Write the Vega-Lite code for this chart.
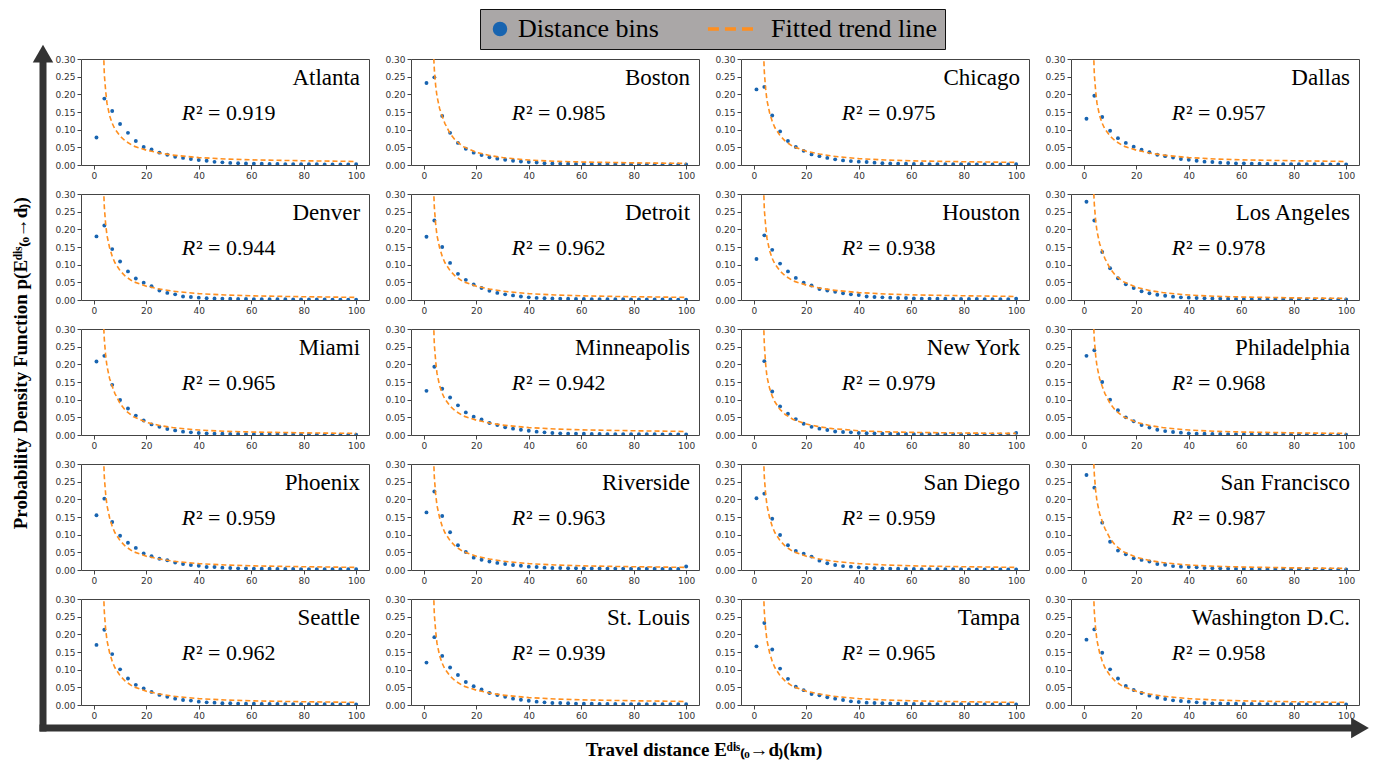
{
"$schema": "https://vega.github.io/schema/vega-lite/v6.json",
"padding": {"left": 12, "top": 8, "right": 0, "bottom": 0},
"config": {
  "view": {"stroke": null},
  "font": "Liberation Serif",
  "header": {"labels": false, "title": null},
  "headerFacet": {"labels": false, "title": null},
  "axis": {"labelFont": "DejaVu Sans", "labelFontSize": 9, "labelColor": "#333", "tickColor": "#444", "tickSize": 4, "domain": false, "grid": false, "labelPadding": 2}
},
"datasets": {"d": [
{"c":1,"t":"r","n":"Atlanta","r":"² = 0.919"},
{"c":2,"t":"r","n":"Boston","r":"² = 0.985"},
{"c":3,"t":"r","n":"Chicago","r":"² = 0.975"},
{"c":4,"t":"r","n":"Dallas","r":"² = 0.957"},
{"c":5,"t":"r","n":"Denver","r":"² = 0.944"},
{"c":6,"t":"r","n":"Detroit","r":"² = 0.962"},
{"c":7,"t":"r","n":"Houston","r":"² = 0.938"},
{"c":8,"t":"r","n":"Los Angeles","r":"² = 0.978"},
{"c":9,"t":"r","n":"Miami","r":"² = 0.965"},
{"c":10,"t":"r","n":"Minneapolis","r":"² = 0.942"},
{"c":11,"t":"r","n":"New York","r":"² = 0.979"},
{"c":12,"t":"r","n":"Philadelphia","r":"² = 0.968"},
{"c":13,"t":"r","n":"Phoenix","r":"² = 0.959"},
{"c":14,"t":"r","n":"Riverside","r":"² = 0.963"},
{"c":15,"t":"r","n":"San Diego","r":"² = 0.959"},
{"c":16,"t":"r","n":"San Francisco","r":"² = 0.987"},
{"c":17,"t":"r","n":"Seattle","r":"² = 0.962"},
{"c":18,"t":"r","n":"St. Louis","r":"² = 0.939"},
{"c":19,"t":"r","n":"Tampa","r":"² = 0.965"},
{"c":20,"t":"r","n":"Washington D.C.","r":"² = 0.958"},

{"c":1,"t":"p","x":1,"y":0.078},{"c":1,"t":"p","x":4,"y":0.188},{"c":1,"t":"p","x":7,"y":0.153},{"c":1,"t":"p","x":10,"y":0.116},{"c":1,"t":"p","x":13,"y":0.091},{"c":1,"t":"p","x":16,"y":0.068},{"c":1,"t":"p","x":19,"y":0.051},{"c":1,"t":"p","x":22,"y":0.044},{"c":1,"t":"p","x":25,"y":0.035},{"c":1,"t":"p","x":28,"y":0.029},{"c":1,"t":"p","x":31,"y":0.023},{"c":1,"t":"p","x":34,"y":0.020},{"c":1,"t":"p","x":37,"y":0.017},{"c":1,"t":"p","x":40,"y":0.014},{"c":1,"t":"p","x":43,"y":0.012},{"c":1,"t":"p","x":46,"y":0.009},{"c":1,"t":"p","x":49,"y":0.0076},{"c":1,"t":"p","x":52,"y":0.006},{"c":1,"t":"p","x":55,"y":0.005},{"c":1,"t":"p","x":58,"y":0.0045},{"c":1,"t":"p","x":61,"y":0.004},{"c":1,"t":"p","x":64,"y":0.0035},{"c":1,"t":"p","x":67,"y":0.003},{"c":1,"t":"p","x":70,"y":0.003},{"c":1,"t":"p","x":73,"y":0.0025},{"c":1,"t":"p","x":76,"y":0.0025},{"c":1,"t":"p","x":79,"y":0.002},{"c":1,"t":"p","x":82,"y":0.002},{"c":1,"t":"p","x":85,"y":0.002},{"c":1,"t":"p","x":88,"y":0.0018},{"c":1,"t":"p","x":91,"y":0.0015},{"c":1,"t":"p","x":94,"y":0.0015},{"c":1,"t":"p","x":97,"y":0.0015},{"c":1,"t":"p","x":100,"y":0.002},

{"c":2,"t":"p","x":1,"y":0.232},{"c":2,"t":"p","x":4,"y":0.248},{"c":2,"t":"p","x":7,"y":0.139},{"c":2,"t":"p","x":10,"y":0.091},{"c":2,"t":"p","x":13,"y":0.0625},{"c":2,"t":"p","x":16,"y":0.046},{"c":2,"t":"p","x":19,"y":0.035},{"c":2,"t":"p","x":22,"y":0.028},{"c":2,"t":"p","x":25,"y":0.022},{"c":2,"t":"p","x":28,"y":0.018},{"c":2,"t":"p","x":31,"y":0.015},{"c":2,"t":"p","x":34,"y":0.012},{"c":2,"t":"p","x":37,"y":0.010},{"c":2,"t":"p","x":40,"y":0.0085},{"c":2,"t":"p","x":43,"y":0.007},{"c":2,"t":"p","x":46,"y":0.005},{"c":2,"t":"p","x":49,"y":0.0045},{"c":2,"t":"p","x":52,"y":0.004},{"c":2,"t":"p","x":55,"y":0.0035},{"c":2,"t":"p","x":58,"y":0.003},{"c":2,"t":"p","x":61,"y":0.003},{"c":2,"t":"p","x":64,"y":0.0025},{"c":2,"t":"p","x":67,"y":0.0025},{"c":2,"t":"p","x":70,"y":0.002},{"c":2,"t":"p","x":73,"y":0.002},{"c":2,"t":"p","x":76,"y":0.002},{"c":2,"t":"p","x":79,"y":0.002},{"c":2,"t":"p","x":82,"y":0.0018},{"c":2,"t":"p","x":85,"y":0.0018},{"c":2,"t":"p","x":88,"y":0.0015},{"c":2,"t":"p","x":91,"y":0.0015},{"c":2,"t":"p","x":94,"y":0.0015},{"c":2,"t":"p","x":97,"y":0.0015},{"c":2,"t":"p","x":100,"y":0.0015},

{"c":3,"t":"p","x":1,"y":0.214},{"c":3,"t":"p","x":4,"y":0.221},{"c":3,"t":"p","x":7,"y":0.140},{"c":3,"t":"p","x":10,"y":0.095},{"c":3,"t":"p","x":13,"y":0.068},{"c":3,"t":"p","x":16,"y":0.051},{"c":3,"t":"p","x":19,"y":0.040},{"c":3,"t":"p","x":22,"y":0.030},{"c":3,"t":"p","x":25,"y":0.025},{"c":3,"t":"p","x":28,"y":0.020},{"c":3,"t":"p","x":31,"y":0.016},{"c":3,"t":"p","x":34,"y":0.013},{"c":3,"t":"p","x":37,"y":0.011},{"c":3,"t":"p","x":40,"y":0.0095},{"c":3,"t":"p","x":43,"y":0.0085},{"c":3,"t":"p","x":46,"y":0.0066},{"c":3,"t":"p","x":49,"y":0.005},{"c":3,"t":"p","x":52,"y":0.0045},{"c":3,"t":"p","x":55,"y":0.004},{"c":3,"t":"p","x":58,"y":0.0035},{"c":3,"t":"p","x":61,"y":0.003},{"c":3,"t":"p","x":64,"y":0.003},{"c":3,"t":"p","x":67,"y":0.0025},{"c":3,"t":"p","x":70,"y":0.0025},{"c":3,"t":"p","x":73,"y":0.002},{"c":3,"t":"p","x":76,"y":0.002},{"c":3,"t":"p","x":79,"y":0.002},{"c":3,"t":"p","x":82,"y":0.002},{"c":3,"t":"p","x":85,"y":0.0018},{"c":3,"t":"p","x":88,"y":0.0018},{"c":3,"t":"p","x":91,"y":0.0015},{"c":3,"t":"p","x":94,"y":0.0015},{"c":3,"t":"p","x":97,"y":0.0015},{"c":3,"t":"p","x":100,"y":0.002},

{"c":4,"t":"p","x":1,"y":0.131},{"c":4,"t":"p","x":4,"y":0.196},{"c":4,"t":"p","x":7,"y":0.136},{"c":4,"t":"p","x":10,"y":0.097},{"c":4,"t":"p","x":13,"y":0.076},{"c":4,"t":"p","x":16,"y":0.0625},{"c":4,"t":"p","x":19,"y":0.052},{"c":4,"t":"p","x":22,"y":0.043},{"c":4,"t":"p","x":25,"y":0.036},{"c":4,"t":"p","x":28,"y":0.029},{"c":4,"t":"p","x":31,"y":0.025},{"c":4,"t":"p","x":34,"y":0.021},{"c":4,"t":"p","x":37,"y":0.017},{"c":4,"t":"p","x":40,"y":0.015},{"c":4,"t":"p","x":43,"y":0.012},{"c":4,"t":"p","x":46,"y":0.0095},{"c":4,"t":"p","x":49,"y":0.0085},{"c":4,"t":"p","x":52,"y":0.0066},{"c":4,"t":"p","x":55,"y":0.0057},{"c":4,"t":"p","x":58,"y":0.0047},{"c":4,"t":"p","x":61,"y":0.0047},{"c":4,"t":"p","x":64,"y":0.004},{"c":4,"t":"p","x":67,"y":0.0035},{"c":4,"t":"p","x":70,"y":0.003},{"c":4,"t":"p","x":73,"y":0.003},{"c":4,"t":"p","x":76,"y":0.0025},{"c":4,"t":"p","x":79,"y":0.0025},{"c":4,"t":"p","x":82,"y":0.002},{"c":4,"t":"p","x":85,"y":0.002},{"c":4,"t":"p","x":88,"y":0.002},{"c":4,"t":"p","x":91,"y":0.002},{"c":4,"t":"p","x":94,"y":0.0018},{"c":4,"t":"p","x":97,"y":0.0018},{"c":4,"t":"p","x":100,"y":0.0018},

{"c":5,"t":"p","x":1,"y":0.180},{"c":5,"t":"p","x":4,"y":0.211},{"c":5,"t":"p","x":7,"y":0.144},{"c":5,"t":"p","x":10,"y":0.109},{"c":5,"t":"p","x":13,"y":0.081},{"c":5,"t":"p","x":16,"y":0.061},{"c":5,"t":"p","x":19,"y":0.049},{"c":5,"t":"p","x":22,"y":0.039},{"c":5,"t":"p","x":25,"y":0.027},{"c":5,"t":"p","x":28,"y":0.020},{"c":5,"t":"p","x":31,"y":0.016},{"c":5,"t":"p","x":34,"y":0.010},{"c":5,"t":"p","x":37,"y":0.0085},{"c":5,"t":"p","x":40,"y":0.0066},{"c":5,"t":"p","x":43,"y":0.005},{"c":5,"t":"p","x":46,"y":0.0045},{"c":5,"t":"p","x":49,"y":0.004},{"c":5,"t":"p","x":52,"y":0.0035},{"c":5,"t":"p","x":55,"y":0.003},{"c":5,"t":"p","x":58,"y":0.003},{"c":5,"t":"p","x":61,"y":0.0025},{"c":5,"t":"p","x":64,"y":0.0025},{"c":5,"t":"p","x":67,"y":0.002},{"c":5,"t":"p","x":70,"y":0.002},{"c":5,"t":"p","x":73,"y":0.002},{"c":5,"t":"p","x":76,"y":0.0018},{"c":5,"t":"p","x":79,"y":0.0018},{"c":5,"t":"p","x":82,"y":0.0015},{"c":5,"t":"p","x":85,"y":0.0015},{"c":5,"t":"p","x":88,"y":0.0015},{"c":5,"t":"p","x":91,"y":0.0012},{"c":5,"t":"p","x":94,"y":0.0012},{"c":5,"t":"p","x":97,"y":0.0012},{"c":5,"t":"p","x":100,"y":0.001},

{"c":6,"t":"p","x":1,"y":0.179},{"c":6,"t":"p","x":4,"y":0.225},{"c":6,"t":"p","x":7,"y":0.150},{"c":6,"t":"p","x":10,"y":0.105},{"c":6,"t":"p","x":13,"y":0.074},{"c":6,"t":"p","x":16,"y":0.057},{"c":6,"t":"p","x":19,"y":0.044},{"c":6,"t":"p","x":22,"y":0.034},{"c":6,"t":"p","x":25,"y":0.026},{"c":6,"t":"p","x":28,"y":0.020},{"c":6,"t":"p","x":31,"y":0.016},{"c":6,"t":"p","x":34,"y":0.013},{"c":6,"t":"p","x":37,"y":0.010},{"c":6,"t":"p","x":40,"y":0.0076},{"c":6,"t":"p","x":43,"y":0.006},{"c":6,"t":"p","x":46,"y":0.005},{"c":6,"t":"p","x":49,"y":0.0045},{"c":6,"t":"p","x":52,"y":0.004},{"c":6,"t":"p","x":55,"y":0.0035},{"c":6,"t":"p","x":58,"y":0.003},{"c":6,"t":"p","x":61,"y":0.003},{"c":6,"t":"p","x":64,"y":0.0025},{"c":6,"t":"p","x":67,"y":0.0025},{"c":6,"t":"p","x":70,"y":0.002},{"c":6,"t":"p","x":73,"y":0.002},{"c":6,"t":"p","x":76,"y":0.002},{"c":6,"t":"p","x":79,"y":0.0018},{"c":6,"t":"p","x":82,"y":0.0018},{"c":6,"t":"p","x":85,"y":0.0015},{"c":6,"t":"p","x":88,"y":0.0015},{"c":6,"t":"p","x":91,"y":0.0015},{"c":6,"t":"p","x":94,"y":0.0015},{"c":6,"t":"p","x":97,"y":0.0012},{"c":6,"t":"p","x":100,"y":0.0012},

{"c":7,"t":"p","x":1,"y":0.116},{"c":7,"t":"p","x":4,"y":0.183},{"c":7,"t":"p","x":7,"y":0.142},{"c":7,"t":"p","x":10,"y":0.103},{"c":7,"t":"p","x":13,"y":0.081},{"c":7,"t":"p","x":16,"y":0.0625},{"c":7,"t":"p","x":19,"y":0.049},{"c":7,"t":"p","x":22,"y":0.041},{"c":7,"t":"p","x":25,"y":0.031},{"c":7,"t":"p","x":28,"y":0.027},{"c":7,"t":"p","x":31,"y":0.023},{"c":7,"t":"p","x":34,"y":0.019},{"c":7,"t":"p","x":37,"y":0.016},{"c":7,"t":"p","x":40,"y":0.014},{"c":7,"t":"p","x":43,"y":0.010},{"c":7,"t":"p","x":46,"y":0.0085},{"c":7,"t":"p","x":49,"y":0.0076},{"c":7,"t":"p","x":52,"y":0.0066},{"c":7,"t":"p","x":55,"y":0.0057},{"c":7,"t":"p","x":58,"y":0.0057},{"c":7,"t":"p","x":61,"y":0.0045},{"c":7,"t":"p","x":64,"y":0.004},{"c":7,"t":"p","x":67,"y":0.004},{"c":7,"t":"p","x":70,"y":0.0035},{"c":7,"t":"p","x":73,"y":0.0035},{"c":7,"t":"p","x":76,"y":0.003},{"c":7,"t":"p","x":79,"y":0.003},{"c":7,"t":"p","x":82,"y":0.003},{"c":7,"t":"p","x":85,"y":0.003},{"c":7,"t":"p","x":88,"y":0.0025},{"c":7,"t":"p","x":91,"y":0.0025},{"c":7,"t":"p","x":94,"y":0.0025},{"c":7,"t":"p","x":97,"y":0.0025},{"c":7,"t":"p","x":100,"y":0.004},

{"c":8,"t":"p","x":1,"y":0.278},{"c":8,"t":"p","x":4,"y":0.225},{"c":8,"t":"p","x":7,"y":0.136},{"c":8,"t":"p","x":10,"y":0.090},{"c":8,"t":"p","x":13,"y":0.0615},{"c":8,"t":"p","x":16,"y":0.0445},{"c":8,"t":"p","x":19,"y":0.034},{"c":8,"t":"p","x":22,"y":0.0246},{"c":8,"t":"p","x":25,"y":0.019},{"c":8,"t":"p","x":28,"y":0.015},{"c":8,"t":"p","x":31,"y":0.012},{"c":8,"t":"p","x":34,"y":0.0095},{"c":8,"t":"p","x":37,"y":0.0076},{"c":8,"t":"p","x":40,"y":0.0066},{"c":8,"t":"p","x":43,"y":0.0057},{"c":8,"t":"p","x":46,"y":0.005},{"c":8,"t":"p","x":49,"y":0.0045},{"c":8,"t":"p","x":52,"y":0.004},{"c":8,"t":"p","x":55,"y":0.0035},{"c":8,"t":"p","x":58,"y":0.003},{"c":8,"t":"p","x":61,"y":0.003},{"c":8,"t":"p","x":64,"y":0.0025},{"c":8,"t":"p","x":67,"y":0.0025},{"c":8,"t":"p","x":70,"y":0.002},{"c":8,"t":"p","x":73,"y":0.002},{"c":8,"t":"p","x":76,"y":0.002},{"c":8,"t":"p","x":79,"y":0.002},{"c":8,"t":"p","x":82,"y":0.0018},{"c":8,"t":"p","x":85,"y":0.0018},{"c":8,"t":"p","x":88,"y":0.0015},{"c":8,"t":"p","x":91,"y":0.0015},{"c":8,"t":"p","x":94,"y":0.0015},{"c":8,"t":"p","x":97,"y":0.0015},{"c":8,"t":"p","x":100,"y":0.0015},

{"c":9,"t":"p","x":1,"y":0.208},{"c":9,"t":"p","x":4,"y":0.224},{"c":9,"t":"p","x":7,"y":0.142},{"c":9,"t":"p","x":10,"y":0.099},{"c":9,"t":"p","x":13,"y":0.075},{"c":9,"t":"p","x":16,"y":0.055},{"c":9,"t":"p","x":19,"y":0.041},{"c":9,"t":"p","x":22,"y":0.030},{"c":9,"t":"p","x":25,"y":0.023},{"c":9,"t":"p","x":28,"y":0.017},{"c":9,"t":"p","x":31,"y":0.013},{"c":9,"t":"p","x":34,"y":0.0095},{"c":9,"t":"p","x":37,"y":0.0076},{"c":9,"t":"p","x":40,"y":0.0057},{"c":9,"t":"p","x":43,"y":0.0047},{"c":9,"t":"p","x":46,"y":0.004},{"c":9,"t":"p","x":49,"y":0.0035},{"c":9,"t":"p","x":52,"y":0.003},{"c":9,"t":"p","x":55,"y":0.003},{"c":9,"t":"p","x":58,"y":0.0025},{"c":9,"t":"p","x":61,"y":0.0025},{"c":9,"t":"p","x":64,"y":0.002},{"c":9,"t":"p","x":67,"y":0.002},{"c":9,"t":"p","x":70,"y":0.002},{"c":9,"t":"p","x":73,"y":0.0018},{"c":9,"t":"p","x":76,"y":0.0015},{"c":9,"t":"p","x":79,"y":0.0015},{"c":9,"t":"p","x":82,"y":0.0015},{"c":9,"t":"p","x":85,"y":0.0012},{"c":9,"t":"p","x":88,"y":0.0012},{"c":9,"t":"p","x":91,"y":0.0012},{"c":9,"t":"p","x":94,"y":0.001},{"c":9,"t":"p","x":97,"y":0.001},{"c":9,"t":"p","x":100,"y":0.001},

{"c":10,"t":"p","x":1,"y":0.125},{"c":10,"t":"p","x":4,"y":0.193},{"c":10,"t":"p","x":7,"y":0.131},{"c":10,"t":"p","x":10,"y":0.106},{"c":10,"t":"p","x":13,"y":0.084},{"c":10,"t":"p","x":16,"y":0.064},{"c":10,"t":"p","x":19,"y":0.052},{"c":10,"t":"p","x":22,"y":0.044},{"c":10,"t":"p","x":25,"y":0.034},{"c":10,"t":"p","x":28,"y":0.028},{"c":10,"t":"p","x":31,"y":0.022},{"c":10,"t":"p","x":34,"y":0.018},{"c":10,"t":"p","x":37,"y":0.015},{"c":10,"t":"p","x":40,"y":0.012},{"c":10,"t":"p","x":43,"y":0.0095},{"c":10,"t":"p","x":46,"y":0.0076},{"c":10,"t":"p","x":49,"y":0.0057},{"c":10,"t":"p","x":52,"y":0.0047},{"c":10,"t":"p","x":55,"y":0.004},{"c":10,"t":"p","x":58,"y":0.004},{"c":10,"t":"p","x":61,"y":0.0035},{"c":10,"t":"p","x":64,"y":0.003},{"c":10,"t":"p","x":67,"y":0.003},{"c":10,"t":"p","x":70,"y":0.0025},{"c":10,"t":"p","x":73,"y":0.0025},{"c":10,"t":"p","x":76,"y":0.0025},{"c":10,"t":"p","x":79,"y":0.002},{"c":10,"t":"p","x":82,"y":0.002},{"c":10,"t":"p","x":85,"y":0.002},{"c":10,"t":"p","x":88,"y":0.002},{"c":10,"t":"p","x":91,"y":0.0018},{"c":10,"t":"p","x":94,"y":0.0018},{"c":10,"t":"p","x":97,"y":0.0018},{"c":10,"t":"p","x":100,"y":0.0018},

{"c":11,"t":"p","x":4,"y":0.209},{"c":11,"t":"p","x":7,"y":0.123},{"c":11,"t":"p","x":10,"y":0.081},{"c":11,"t":"p","x":13,"y":0.060},{"c":11,"t":"p","x":16,"y":0.045},{"c":11,"t":"p","x":19,"y":0.032},{"c":11,"t":"p","x":22,"y":0.023},{"c":11,"t":"p","x":25,"y":0.018},{"c":11,"t":"p","x":28,"y":0.014},{"c":11,"t":"p","x":31,"y":0.010},{"c":11,"t":"p","x":34,"y":0.0085},{"c":11,"t":"p","x":37,"y":0.0076},{"c":11,"t":"p","x":40,"y":0.0057},{"c":11,"t":"p","x":43,"y":0.005},{"c":11,"t":"p","x":46,"y":0.0047},{"c":11,"t":"p","x":49,"y":0.004},{"c":11,"t":"p","x":52,"y":0.0035},{"c":11,"t":"p","x":55,"y":0.003},{"c":11,"t":"p","x":58,"y":0.003},{"c":11,"t":"p","x":61,"y":0.0025},{"c":11,"t":"p","x":64,"y":0.0025},{"c":11,"t":"p","x":67,"y":0.002},{"c":11,"t":"p","x":70,"y":0.002},{"c":11,"t":"p","x":73,"y":0.002},{"c":11,"t":"p","x":76,"y":0.002},{"c":11,"t":"p","x":79,"y":0.0018},{"c":11,"t":"p","x":82,"y":0.0018},{"c":11,"t":"p","x":85,"y":0.0018},{"c":11,"t":"p","x":88,"y":0.0015},{"c":11,"t":"p","x":91,"y":0.0015},{"c":11,"t":"p","x":94,"y":0.0015},{"c":11,"t":"p","x":97,"y":0.0015},{"c":11,"t":"p","x":100,"y":0.006},

{"c":12,"t":"p","x":1,"y":0.224},{"c":12,"t":"p","x":4,"y":0.240},{"c":12,"t":"p","x":7,"y":0.150},{"c":12,"t":"p","x":10,"y":0.100},{"c":12,"t":"p","x":13,"y":0.070},{"c":12,"t":"p","x":16,"y":0.050},{"c":12,"t":"p","x":19,"y":0.039},{"c":12,"t":"p","x":22,"y":0.028},{"c":12,"t":"p","x":25,"y":0.021},{"c":12,"t":"p","x":28,"y":0.015},{"c":12,"t":"p","x":31,"y":0.011},{"c":12,"t":"p","x":34,"y":0.0085},{"c":12,"t":"p","x":37,"y":0.0066},{"c":12,"t":"p","x":40,"y":0.0047},{"c":12,"t":"p","x":43,"y":0.004},{"c":12,"t":"p","x":46,"y":0.0035},{"c":12,"t":"p","x":49,"y":0.003},{"c":12,"t":"p","x":52,"y":0.003},{"c":12,"t":"p","x":55,"y":0.0025},{"c":12,"t":"p","x":58,"y":0.0025},{"c":12,"t":"p","x":61,"y":0.002},{"c":12,"t":"p","x":64,"y":0.002},{"c":12,"t":"p","x":67,"y":0.002},{"c":12,"t":"p","x":70,"y":0.0018},{"c":12,"t":"p","x":73,"y":0.0018},{"c":12,"t":"p","x":76,"y":0.0015},{"c":12,"t":"p","x":79,"y":0.0015},{"c":12,"t":"p","x":82,"y":0.0015},{"c":12,"t":"p","x":85,"y":0.0012},{"c":12,"t":"p","x":88,"y":0.0012},{"c":12,"t":"p","x":91,"y":0.0012},{"c":12,"t":"p","x":94,"y":0.001},{"c":12,"t":"p","x":97,"y":0.001},{"c":12,"t":"p","x":100,"y":0.001},

{"c":13,"t":"p","x":1,"y":0.155},{"c":13,"t":"p","x":4,"y":0.202},{"c":13,"t":"p","x":7,"y":0.136},{"c":13,"t":"p","x":10,"y":0.097},{"c":13,"t":"p","x":13,"y":0.077},{"c":13,"t":"p","x":16,"y":0.0625},{"c":13,"t":"p","x":19,"y":0.047},{"c":13,"t":"p","x":22,"y":0.039},{"c":13,"t":"p","x":25,"y":0.032},{"c":13,"t":"p","x":28,"y":0.0275},{"c":13,"t":"p","x":31,"y":0.021},{"c":13,"t":"p","x":34,"y":0.017},{"c":13,"t":"p","x":37,"y":0.014},{"c":13,"t":"p","x":40,"y":0.012},{"c":13,"t":"p","x":43,"y":0.0085},{"c":13,"t":"p","x":46,"y":0.0085},{"c":13,"t":"p","x":49,"y":0.0066},{"c":13,"t":"p","x":52,"y":0.0057},{"c":13,"t":"p","x":55,"y":0.0047},{"c":13,"t":"p","x":58,"y":0.0047},{"c":13,"t":"p","x":61,"y":0.004},{"c":13,"t":"p","x":64,"y":0.0035},{"c":13,"t":"p","x":67,"y":0.0035},{"c":13,"t":"p","x":70,"y":0.003},{"c":13,"t":"p","x":73,"y":0.003},{"c":13,"t":"p","x":76,"y":0.003},{"c":13,"t":"p","x":79,"y":0.0025},{"c":13,"t":"p","x":82,"y":0.0025},{"c":13,"t":"p","x":85,"y":0.0025},{"c":13,"t":"p","x":88,"y":0.002},{"c":13,"t":"p","x":91,"y":0.002},{"c":13,"t":"p","x":94,"y":0.002},{"c":13,"t":"p","x":97,"y":0.002},{"c":13,"t":"p","x":100,"y":0.002},

{"c":14,"t":"p","x":1,"y":0.163},{"c":14,"t":"p","x":4,"y":0.222},{"c":14,"t":"p","x":7,"y":0.153},{"c":14,"t":"p","x":10,"y":0.107},{"c":14,"t":"p","x":13,"y":0.070},{"c":14,"t":"p","x":16,"y":0.051},{"c":14,"t":"p","x":19,"y":0.035},{"c":14,"t":"p","x":22,"y":0.029},{"c":14,"t":"p","x":25,"y":0.024},{"c":14,"t":"p","x":28,"y":0.020},{"c":14,"t":"p","x":31,"y":0.017},{"c":14,"t":"p","x":34,"y":0.014},{"c":14,"t":"p","x":37,"y":0.012},{"c":14,"t":"p","x":40,"y":0.0095},{"c":14,"t":"p","x":43,"y":0.0085},{"c":14,"t":"p","x":46,"y":0.0066},{"c":14,"t":"p","x":49,"y":0.0057},{"c":14,"t":"p","x":52,"y":0.0055},{"c":14,"t":"p","x":55,"y":0.0052},{"c":14,"t":"p","x":58,"y":0.005},{"c":14,"t":"p","x":61,"y":0.0047},{"c":14,"t":"p","x":64,"y":0.0045},{"c":14,"t":"p","x":67,"y":0.0045},{"c":14,"t":"p","x":70,"y":0.004},{"c":14,"t":"p","x":73,"y":0.004},{"c":14,"t":"p","x":76,"y":0.004},{"c":14,"t":"p","x":79,"y":0.0038},{"c":14,"t":"p","x":82,"y":0.0035},{"c":14,"t":"p","x":85,"y":0.0035},{"c":14,"t":"p","x":88,"y":0.0035},{"c":14,"t":"p","x":91,"y":0.0032},{"c":14,"t":"p","x":94,"y":0.003},{"c":14,"t":"p","x":97,"y":0.003},{"c":14,"t":"p","x":100,"y":0.010},

{"c":15,"t":"p","x":1,"y":0.203},{"c":15,"t":"p","x":4,"y":0.216},{"c":15,"t":"p","x":7,"y":0.145},{"c":15,"t":"p","x":10,"y":0.099},{"c":15,"t":"p","x":13,"y":0.070},{"c":15,"t":"p","x":16,"y":0.054},{"c":15,"t":"p","x":19,"y":0.046},{"c":15,"t":"p","x":22,"y":0.038},{"c":15,"t":"p","x":25,"y":0.0265},{"c":15,"t":"p","x":28,"y":0.019},{"c":15,"t":"p","x":31,"y":0.014},{"c":15,"t":"p","x":34,"y":0.011},{"c":15,"t":"p","x":37,"y":0.0095},{"c":15,"t":"p","x":40,"y":0.0076},{"c":15,"t":"p","x":43,"y":0.0057},{"c":15,"t":"p","x":46,"y":0.005},{"c":15,"t":"p","x":49,"y":0.0045},{"c":15,"t":"p","x":52,"y":0.004},{"c":15,"t":"p","x":55,"y":0.0035},{"c":15,"t":"p","x":58,"y":0.003},{"c":15,"t":"p","x":61,"y":0.003},{"c":15,"t":"p","x":64,"y":0.0025},{"c":15,"t":"p","x":67,"y":0.0025},{"c":15,"t":"p","x":70,"y":0.002},{"c":15,"t":"p","x":73,"y":0.002},{"c":15,"t":"p","x":76,"y":0.002},{"c":15,"t":"p","x":79,"y":0.002},{"c":15,"t":"p","x":82,"y":0.0018},{"c":15,"t":"p","x":85,"y":0.0018},{"c":15,"t":"p","x":88,"y":0.0015},{"c":15,"t":"p","x":91,"y":0.0015},{"c":15,"t":"p","x":94,"y":0.0015},{"c":15,"t":"p","x":97,"y":0.0015},{"c":15,"t":"p","x":100,"y":0.0015},

{"c":16,"t":"p","x":1,"y":0.269},{"c":16,"t":"p","x":4,"y":0.233},{"c":16,"t":"p","x":7,"y":0.134},{"c":16,"t":"p","x":10,"y":0.080},{"c":16,"t":"p","x":13,"y":0.055},{"c":16,"t":"p","x":16,"y":0.0445},{"c":16,"t":"p","x":19,"y":0.033},{"c":16,"t":"p","x":22,"y":0.0285},{"c":16,"t":"p","x":25,"y":0.024},{"c":16,"t":"p","x":28,"y":0.017},{"c":16,"t":"p","x":31,"y":0.015},{"c":16,"t":"p","x":34,"y":0.011},{"c":16,"t":"p","x":37,"y":0.0095},{"c":16,"t":"p","x":40,"y":0.0085},{"c":16,"t":"p","x":43,"y":0.0076},{"c":16,"t":"p","x":46,"y":0.0057},{"c":16,"t":"p","x":49,"y":0.005},{"c":16,"t":"p","x":52,"y":0.0047},{"c":16,"t":"p","x":55,"y":0.004},{"c":16,"t":"p","x":58,"y":0.0035},{"c":16,"t":"p","x":61,"y":0.0035},{"c":16,"t":"p","x":64,"y":0.003},{"c":16,"t":"p","x":67,"y":0.003},{"c":16,"t":"p","x":70,"y":0.0025},{"c":16,"t":"p","x":73,"y":0.0025},{"c":16,"t":"p","x":76,"y":0.0025},{"c":16,"t":"p","x":79,"y":0.002},{"c":16,"t":"p","x":82,"y":0.002},{"c":16,"t":"p","x":85,"y":0.002},{"c":16,"t":"p","x":88,"y":0.002},{"c":16,"t":"p","x":91,"y":0.0018},{"c":16,"t":"p","x":94,"y":0.0018},{"c":16,"t":"p","x":97,"y":0.0018},{"c":16,"t":"p","x":100,"y":0.0018},

{"c":17,"t":"p","x":1,"y":0.170},{"c":17,"t":"p","x":4,"y":0.213},{"c":17,"t":"p","x":7,"y":0.144},{"c":17,"t":"p","x":10,"y":0.101},{"c":17,"t":"p","x":13,"y":0.075},{"c":17,"t":"p","x":16,"y":0.057},{"c":17,"t":"p","x":19,"y":0.047},{"c":17,"t":"p","x":22,"y":0.037},{"c":17,"t":"p","x":25,"y":0.0286},{"c":17,"t":"p","x":28,"y":0.023},{"c":17,"t":"p","x":31,"y":0.018},{"c":17,"t":"p","x":34,"y":0.0143},{"c":17,"t":"p","x":37,"y":0.0124},{"c":17,"t":"p","x":40,"y":0.0095},{"c":17,"t":"p","x":43,"y":0.0076},{"c":17,"t":"p","x":46,"y":0.0067},{"c":17,"t":"p","x":49,"y":0.0048},{"c":17,"t":"p","x":52,"y":0.0048},{"c":17,"t":"p","x":55,"y":0.004},{"c":17,"t":"p","x":58,"y":0.0035},{"c":17,"t":"p","x":61,"y":0.0035},{"c":17,"t":"p","x":64,"y":0.003},{"c":17,"t":"p","x":67,"y":0.003},{"c":17,"t":"p","x":70,"y":0.003},{"c":17,"t":"p","x":73,"y":0.0025},{"c":17,"t":"p","x":76,"y":0.0025},{"c":17,"t":"p","x":79,"y":0.0025},{"c":17,"t":"p","x":82,"y":0.002},{"c":17,"t":"p","x":85,"y":0.002},{"c":17,"t":"p","x":88,"y":0.002},{"c":17,"t":"p","x":91,"y":0.002},{"c":17,"t":"p","x":94,"y":0.0018},{"c":17,"t":"p","x":97,"y":0.0018},{"c":17,"t":"p","x":100,"y":0.0018},

{"c":18,"t":"p","x":1,"y":0.120},{"c":18,"t":"p","x":4,"y":0.192},{"c":18,"t":"p","x":7,"y":0.139},{"c":18,"t":"p","x":10,"y":0.106},{"c":18,"t":"p","x":13,"y":0.085},{"c":18,"t":"p","x":16,"y":0.065},{"c":18,"t":"p","x":19,"y":0.053},{"c":18,"t":"p","x":22,"y":0.044},{"c":18,"t":"p","x":25,"y":0.034},{"c":18,"t":"p","x":28,"y":0.028},{"c":18,"t":"p","x":31,"y":0.023},{"c":18,"t":"p","x":34,"y":0.018},{"c":18,"t":"p","x":37,"y":0.015},{"c":18,"t":"p","x":40,"y":0.012},{"c":18,"t":"p","x":43,"y":0.0095},{"c":18,"t":"p","x":46,"y":0.0076},{"c":18,"t":"p","x":49,"y":0.0057},{"c":18,"t":"p","x":52,"y":0.0057},{"c":18,"t":"p","x":55,"y":0.0048},{"c":18,"t":"p","x":58,"y":0.004},{"c":18,"t":"p","x":61,"y":0.0035},{"c":18,"t":"p","x":64,"y":0.0035},{"c":18,"t":"p","x":67,"y":0.003},{"c":18,"t":"p","x":70,"y":0.003},{"c":18,"t":"p","x":73,"y":0.003},{"c":18,"t":"p","x":76,"y":0.0025},{"c":18,"t":"p","x":79,"y":0.0025},{"c":18,"t":"p","x":82,"y":0.0025},{"c":18,"t":"p","x":85,"y":0.002},{"c":18,"t":"p","x":88,"y":0.002},{"c":18,"t":"p","x":91,"y":0.002},{"c":18,"t":"p","x":94,"y":0.002},{"c":18,"t":"p","x":97,"y":0.002},{"c":18,"t":"p","x":100,"y":0.002},

{"c":19,"t":"p","x":1,"y":0.166},{"c":19,"t":"p","x":4,"y":0.232},{"c":19,"t":"p","x":7,"y":0.157},{"c":19,"t":"p","x":10,"y":0.103},{"c":19,"t":"p","x":13,"y":0.074},{"c":19,"t":"p","x":16,"y":0.052},{"c":19,"t":"p","x":19,"y":0.042},{"c":19,"t":"p","x":22,"y":0.031},{"c":19,"t":"p","x":25,"y":0.0275},{"c":19,"t":"p","x":28,"y":0.022},{"c":19,"t":"p","x":31,"y":0.018},{"c":19,"t":"p","x":34,"y":0.014},{"c":19,"t":"p","x":37,"y":0.0104},{"c":19,"t":"p","x":40,"y":0.0085},{"c":19,"t":"p","x":43,"y":0.0066},{"c":19,"t":"p","x":46,"y":0.0057},{"c":19,"t":"p","x":49,"y":0.005},{"c":19,"t":"p","x":52,"y":0.0045},{"c":19,"t":"p","x":55,"y":0.004},{"c":19,"t":"p","x":58,"y":0.0035},{"c":19,"t":"p","x":61,"y":0.003},{"c":19,"t":"p","x":64,"y":0.003},{"c":19,"t":"p","x":67,"y":0.0025},{"c":19,"t":"p","x":70,"y":0.0025},{"c":19,"t":"p","x":73,"y":0.002},{"c":19,"t":"p","x":76,"y":0.002},{"c":19,"t":"p","x":79,"y":0.002},{"c":19,"t":"p","x":82,"y":0.002},{"c":19,"t":"p","x":85,"y":0.0018},{"c":19,"t":"p","x":88,"y":0.0018},{"c":19,"t":"p","x":91,"y":0.0015},{"c":19,"t":"p","x":94,"y":0.0015},{"c":19,"t":"p","x":97,"y":0.0015},{"c":19,"t":"p","x":100,"y":0.0015},

{"c":20,"t":"p","x":1,"y":0.185},{"c":20,"t":"p","x":4,"y":0.214},{"c":20,"t":"p","x":7,"y":0.148},{"c":20,"t":"p","x":10,"y":0.101},{"c":20,"t":"p","x":13,"y":0.075},{"c":20,"t":"p","x":16,"y":0.054},{"c":20,"t":"p","x":19,"y":0.0426},{"c":20,"t":"p","x":22,"y":0.034},{"c":20,"t":"p","x":25,"y":0.0265},{"c":20,"t":"p","x":28,"y":0.0208},{"c":20,"t":"p","x":31,"y":0.017},{"c":20,"t":"p","x":34,"y":0.0132},{"c":20,"t":"p","x":37,"y":0.0114},{"c":20,"t":"p","x":40,"y":0.0095},{"c":20,"t":"p","x":43,"y":0.0076},{"c":20,"t":"p","x":46,"y":0.0057},{"c":20,"t":"p","x":49,"y":0.0047},{"c":20,"t":"p","x":52,"y":0.0042},{"c":20,"t":"p","x":55,"y":0.004},{"c":20,"t":"p","x":58,"y":0.0035},{"c":20,"t":"p","x":61,"y":0.003},{"c":20,"t":"p","x":64,"y":0.003},{"c":20,"t":"p","x":67,"y":0.0025},{"c":20,"t":"p","x":70,"y":0.0025},{"c":20,"t":"p","x":73,"y":0.002},{"c":20,"t":"p","x":76,"y":0.002},{"c":20,"t":"p","x":79,"y":0.002},{"c":20,"t":"p","x":82,"y":0.002},{"c":20,"t":"p","x":85,"y":0.0018},{"c":20,"t":"p","x":88,"y":0.0018},{"c":20,"t":"p","x":91,"y":0.0015},{"c":20,"t":"p","x":94,"y":0.0015},{"c":20,"t":"p","x":97,"y":0.0015},{"c":20,"t":"p","x":100,"y":0.0015},

{"c":1,"t":"l","x":3.3,"y":0.5},{"c":1,"t":"l","x":3.8,"y":0.30},{"c":1,"t":"l","x":4,"y":0.255},{"c":1,"t":"l","x":4.5,"y":0.21},{"c":1,"t":"l","x":5,"y":0.175},{"c":1,"t":"l","x":6,"y":0.14},{"c":1,"t":"l","x":7,"y":0.118},{"c":1,"t":"l","x":8,"y":0.102},{"c":1,"t":"l","x":10,"y":0.082},{"c":1,"t":"l","x":12,"y":0.068},{"c":1,"t":"l","x":15,"y":0.054},{"c":1,"t":"l","x":20,"y":0.042},{"c":1,"t":"l","x":25,"y":0.034},{"c":1,"t":"l","x":30,"y":0.028},{"c":1,"t":"l","x":40,"y":0.021},{"c":1,"t":"l","x":50,"y":0.017},{"c":1,"t":"l","x":60,"y":0.0145},{"c":1,"t":"l","x":80,"y":0.012},{"c":1,"t":"l","x":100,"y":0.010},
{"c":2,"t":"l","x":3.3,"y":0.55},{"c":2,"t":"l","x":3.8,"y":0.30},{"c":2,"t":"l","x":4,"y":0.27},{"c":2,"t":"l","x":4.5,"y":0.225},{"c":2,"t":"l","x":5,"y":0.195},{"c":2,"t":"l","x":6,"y":0.16},{"c":2,"t":"l","x":7,"y":0.138},{"c":2,"t":"l","x":8,"y":0.118},{"c":2,"t":"l","x":10,"y":0.089},{"c":2,"t":"l","x":12,"y":0.07},{"c":2,"t":"l","x":15,"y":0.052},{"c":2,"t":"l","x":20,"y":0.036},{"c":2,"t":"l","x":25,"y":0.027},{"c":2,"t":"l","x":30,"y":0.021},{"c":2,"t":"l","x":40,"y":0.014},{"c":2,"t":"l","x":50,"y":0.0105},{"c":2,"t":"l","x":60,"y":0.0085},{"c":2,"t":"l","x":80,"y":0.006},{"c":2,"t":"l","x":100,"y":0.0045},
{"c":3,"t":"l","x":3.3,"y":0.52},{"c":3,"t":"l","x":3.8,"y":0.30},{"c":3,"t":"l","x":4,"y":0.262},{"c":3,"t":"l","x":4.5,"y":0.215},{"c":3,"t":"l","x":5,"y":0.183},{"c":3,"t":"l","x":6,"y":0.148},{"c":3,"t":"l","x":7,"y":0.124},{"c":3,"t":"l","x":8,"y":0.106},{"c":3,"t":"l","x":10,"y":0.083},{"c":3,"t":"l","x":12,"y":0.067},{"c":3,"t":"l","x":15,"y":0.052},{"c":3,"t":"l","x":20,"y":0.039},{"c":3,"t":"l","x":25,"y":0.031},{"c":3,"t":"l","x":30,"y":0.025},{"c":3,"t":"l","x":40,"y":0.018},{"c":3,"t":"l","x":50,"y":0.0143},{"c":3,"t":"l","x":60,"y":0.0118},{"c":3,"t":"l","x":80,"y":0.0092},{"c":3,"t":"l","x":100,"y":0.0075},
{"c":4,"t":"l","x":3.3,"y":0.5},{"c":4,"t":"l","x":3.8,"y":0.30},{"c":4,"t":"l","x":4,"y":0.255},{"c":4,"t":"l","x":4.5,"y":0.21},{"c":4,"t":"l","x":5,"y":0.175},{"c":4,"t":"l","x":6,"y":0.14},{"c":4,"t":"l","x":7,"y":0.118},{"c":4,"t":"l","x":8,"y":0.102},{"c":4,"t":"l","x":10,"y":0.082},{"c":4,"t":"l","x":12,"y":0.068},{"c":4,"t":"l","x":15,"y":0.054},{"c":4,"t":"l","x":20,"y":0.042},{"c":4,"t":"l","x":25,"y":0.034},{"c":4,"t":"l","x":30,"y":0.028},{"c":4,"t":"l","x":40,"y":0.021},{"c":4,"t":"l","x":50,"y":0.017},{"c":4,"t":"l","x":60,"y":0.0145},{"c":4,"t":"l","x":80,"y":0.012},{"c":4,"t":"l","x":100,"y":0.010},
{"c":5,"t":"l","x":3.3,"y":0.52},{"c":5,"t":"l","x":3.8,"y":0.30},{"c":5,"t":"l","x":4,"y":0.262},{"c":5,"t":"l","x":4.5,"y":0.215},{"c":5,"t":"l","x":5,"y":0.183},{"c":5,"t":"l","x":6,"y":0.148},{"c":5,"t":"l","x":7,"y":0.124},{"c":5,"t":"l","x":8,"y":0.106},{"c":5,"t":"l","x":10,"y":0.083},{"c":5,"t":"l","x":12,"y":0.067},{"c":5,"t":"l","x":15,"y":0.052},{"c":5,"t":"l","x":20,"y":0.039},{"c":5,"t":"l","x":25,"y":0.031},{"c":5,"t":"l","x":30,"y":0.025},{"c":5,"t":"l","x":40,"y":0.018},{"c":5,"t":"l","x":50,"y":0.0143},{"c":5,"t":"l","x":60,"y":0.0118},{"c":5,"t":"l","x":80,"y":0.0092},{"c":5,"t":"l","x":100,"y":0.0075},
{"c":6,"t":"l","x":3.3,"y":0.52},{"c":6,"t":"l","x":3.8,"y":0.30},{"c":6,"t":"l","x":4,"y":0.262},{"c":6,"t":"l","x":4.5,"y":0.215},{"c":6,"t":"l","x":5,"y":0.183},{"c":6,"t":"l","x":6,"y":0.148},{"c":6,"t":"l","x":7,"y":0.124},{"c":6,"t":"l","x":8,"y":0.106},{"c":6,"t":"l","x":10,"y":0.083},{"c":6,"t":"l","x":12,"y":0.067},{"c":6,"t":"l","x":15,"y":0.052},{"c":6,"t":"l","x":20,"y":0.039},{"c":6,"t":"l","x":25,"y":0.031},{"c":6,"t":"l","x":30,"y":0.025},{"c":6,"t":"l","x":40,"y":0.018},{"c":6,"t":"l","x":50,"y":0.0143},{"c":6,"t":"l","x":60,"y":0.0118},{"c":6,"t":"l","x":80,"y":0.0092},{"c":6,"t":"l","x":100,"y":0.0075},
{"c":7,"t":"l","x":3.3,"y":0.5},{"c":7,"t":"l","x":3.8,"y":0.30},{"c":7,"t":"l","x":4,"y":0.255},{"c":7,"t":"l","x":4.5,"y":0.21},{"c":7,"t":"l","x":5,"y":0.175},{"c":7,"t":"l","x":6,"y":0.14},{"c":7,"t":"l","x":7,"y":0.118},{"c":7,"t":"l","x":8,"y":0.102},{"c":7,"t":"l","x":10,"y":0.082},{"c":7,"t":"l","x":12,"y":0.068},{"c":7,"t":"l","x":15,"y":0.054},{"c":7,"t":"l","x":20,"y":0.042},{"c":7,"t":"l","x":25,"y":0.034},{"c":7,"t":"l","x":30,"y":0.028},{"c":7,"t":"l","x":40,"y":0.021},{"c":7,"t":"l","x":50,"y":0.017},{"c":7,"t":"l","x":60,"y":0.0145},{"c":7,"t":"l","x":80,"y":0.012},{"c":7,"t":"l","x":100,"y":0.010},
{"c":8,"t":"l","x":3.3,"y":0.55},{"c":8,"t":"l","x":3.8,"y":0.30},{"c":8,"t":"l","x":4,"y":0.27},{"c":8,"t":"l","x":4.5,"y":0.225},{"c":8,"t":"l","x":5,"y":0.195},{"c":8,"t":"l","x":6,"y":0.16},{"c":8,"t":"l","x":7,"y":0.138},{"c":8,"t":"l","x":8,"y":0.118},{"c":8,"t":"l","x":10,"y":0.089},{"c":8,"t":"l","x":12,"y":0.07},{"c":8,"t":"l","x":15,"y":0.052},{"c":8,"t":"l","x":20,"y":0.036},{"c":8,"t":"l","x":25,"y":0.027},{"c":8,"t":"l","x":30,"y":0.021},{"c":8,"t":"l","x":40,"y":0.014},{"c":8,"t":"l","x":50,"y":0.0105},{"c":8,"t":"l","x":60,"y":0.0085},{"c":8,"t":"l","x":80,"y":0.006},{"c":8,"t":"l","x":100,"y":0.0045},
{"c":9,"t":"l","x":3.3,"y":0.55},{"c":9,"t":"l","x":3.8,"y":0.30},{"c":9,"t":"l","x":4,"y":0.27},{"c":9,"t":"l","x":4.5,"y":0.225},{"c":9,"t":"l","x":5,"y":0.195},{"c":9,"t":"l","x":6,"y":0.16},{"c":9,"t":"l","x":7,"y":0.138},{"c":9,"t":"l","x":8,"y":0.118},{"c":9,"t":"l","x":10,"y":0.089},{"c":9,"t":"l","x":12,"y":0.07},{"c":9,"t":"l","x":15,"y":0.052},{"c":9,"t":"l","x":20,"y":0.036},{"c":9,"t":"l","x":25,"y":0.027},{"c":9,"t":"l","x":30,"y":0.021},{"c":9,"t":"l","x":40,"y":0.014},{"c":9,"t":"l","x":50,"y":0.0105},{"c":9,"t":"l","x":60,"y":0.0085},{"c":9,"t":"l","x":80,"y":0.006},{"c":9,"t":"l","x":100,"y":0.0045},
{"c":10,"t":"l","x":3.3,"y":0.5},{"c":10,"t":"l","x":3.8,"y":0.30},{"c":10,"t":"l","x":4,"y":0.255},{"c":10,"t":"l","x":4.5,"y":0.21},{"c":10,"t":"l","x":5,"y":0.175},{"c":10,"t":"l","x":6,"y":0.14},{"c":10,"t":"l","x":7,"y":0.118},{"c":10,"t":"l","x":8,"y":0.102},{"c":10,"t":"l","x":10,"y":0.082},{"c":10,"t":"l","x":12,"y":0.068},{"c":10,"t":"l","x":15,"y":0.054},{"c":10,"t":"l","x":20,"y":0.042},{"c":10,"t":"l","x":25,"y":0.034},{"c":10,"t":"l","x":30,"y":0.028},{"c":10,"t":"l","x":40,"y":0.021},{"c":10,"t":"l","x":50,"y":0.017},{"c":10,"t":"l","x":60,"y":0.0145},{"c":10,"t":"l","x":80,"y":0.012},{"c":10,"t":"l","x":100,"y":0.010},
{"c":11,"t":"l","x":3.3,"y":0.5},{"c":11,"t":"l","x":3.8,"y":0.30},{"c":11,"t":"l","x":4,"y":0.255},{"c":11,"t":"l","x":4.5,"y":0.2},{"c":11,"t":"l","x":5,"y":0.165},{"c":11,"t":"l","x":6,"y":0.132},{"c":11,"t":"l","x":7,"y":0.11},{"c":11,"t":"l","x":8,"y":0.094},{"c":11,"t":"l","x":10,"y":0.072},{"c":11,"t":"l","x":12,"y":0.058},{"c":11,"t":"l","x":15,"y":0.044},{"c":11,"t":"l","x":20,"y":0.031},{"c":11,"t":"l","x":25,"y":0.023},{"c":11,"t":"l","x":30,"y":0.018},{"c":11,"t":"l","x":40,"y":0.012},{"c":11,"t":"l","x":50,"y":0.009},{"c":11,"t":"l","x":60,"y":0.0075},{"c":11,"t":"l","x":80,"y":0.0055},{"c":11,"t":"l","x":100,"y":0.0045},
{"c":12,"t":"l","x":3.3,"y":0.55},{"c":12,"t":"l","x":3.8,"y":0.30},{"c":12,"t":"l","x":4,"y":0.27},{"c":12,"t":"l","x":4.5,"y":0.225},{"c":12,"t":"l","x":5,"y":0.195},{"c":12,"t":"l","x":6,"y":0.16},{"c":12,"t":"l","x":7,"y":0.138},{"c":12,"t":"l","x":8,"y":0.118},{"c":12,"t":"l","x":10,"y":0.089},{"c":12,"t":"l","x":12,"y":0.07},{"c":12,"t":"l","x":15,"y":0.052},{"c":12,"t":"l","x":20,"y":0.036},{"c":12,"t":"l","x":25,"y":0.027},{"c":12,"t":"l","x":30,"y":0.021},{"c":12,"t":"l","x":40,"y":0.014},{"c":12,"t":"l","x":50,"y":0.0105},{"c":12,"t":"l","x":60,"y":0.0085},{"c":12,"t":"l","x":80,"y":0.006},{"c":12,"t":"l","x":100,"y":0.0045},
{"c":13,"t":"l","x":3.3,"y":0.52},{"c":13,"t":"l","x":3.8,"y":0.30},{"c":13,"t":"l","x":4,"y":0.262},{"c":13,"t":"l","x":4.5,"y":0.215},{"c":13,"t":"l","x":5,"y":0.183},{"c":13,"t":"l","x":6,"y":0.148},{"c":13,"t":"l","x":7,"y":0.124},{"c":13,"t":"l","x":8,"y":0.106},{"c":13,"t":"l","x":10,"y":0.083},{"c":13,"t":"l","x":12,"y":0.067},{"c":13,"t":"l","x":15,"y":0.052},{"c":13,"t":"l","x":20,"y":0.039},{"c":13,"t":"l","x":25,"y":0.031},{"c":13,"t":"l","x":30,"y":0.025},{"c":13,"t":"l","x":40,"y":0.018},{"c":13,"t":"l","x":50,"y":0.0143},{"c":13,"t":"l","x":60,"y":0.0118},{"c":13,"t":"l","x":80,"y":0.0092},{"c":13,"t":"l","x":100,"y":0.0075},
{"c":14,"t":"l","x":3.3,"y":0.52},{"c":14,"t":"l","x":3.8,"y":0.30},{"c":14,"t":"l","x":4,"y":0.262},{"c":14,"t":"l","x":4.5,"y":0.215},{"c":14,"t":"l","x":5,"y":0.183},{"c":14,"t":"l","x":6,"y":0.148},{"c":14,"t":"l","x":7,"y":0.124},{"c":14,"t":"l","x":8,"y":0.106},{"c":14,"t":"l","x":10,"y":0.083},{"c":14,"t":"l","x":12,"y":0.067},{"c":14,"t":"l","x":15,"y":0.052},{"c":14,"t":"l","x":20,"y":0.039},{"c":14,"t":"l","x":25,"y":0.031},{"c":14,"t":"l","x":30,"y":0.025},{"c":14,"t":"l","x":40,"y":0.018},{"c":14,"t":"l","x":50,"y":0.0143},{"c":14,"t":"l","x":60,"y":0.0118},{"c":14,"t":"l","x":80,"y":0.0092},{"c":14,"t":"l","x":100,"y":0.0075},
{"c":15,"t":"l","x":3.3,"y":0.52},{"c":15,"t":"l","x":3.8,"y":0.30},{"c":15,"t":"l","x":4,"y":0.262},{"c":15,"t":"l","x":4.5,"y":0.215},{"c":15,"t":"l","x":5,"y":0.183},{"c":15,"t":"l","x":6,"y":0.148},{"c":15,"t":"l","x":7,"y":0.124},{"c":15,"t":"l","x":8,"y":0.106},{"c":15,"t":"l","x":10,"y":0.083},{"c":15,"t":"l","x":12,"y":0.067},{"c":15,"t":"l","x":15,"y":0.052},{"c":15,"t":"l","x":20,"y":0.039},{"c":15,"t":"l","x":25,"y":0.031},{"c":15,"t":"l","x":30,"y":0.025},{"c":15,"t":"l","x":40,"y":0.018},{"c":15,"t":"l","x":50,"y":0.0143},{"c":15,"t":"l","x":60,"y":0.0118},{"c":15,"t":"l","x":80,"y":0.0092},{"c":15,"t":"l","x":100,"y":0.0075},
{"c":16,"t":"l","x":3.3,"y":0.55},{"c":16,"t":"l","x":3.8,"y":0.30},{"c":16,"t":"l","x":4,"y":0.27},{"c":16,"t":"l","x":4.5,"y":0.225},{"c":16,"t":"l","x":5,"y":0.195},{"c":16,"t":"l","x":6,"y":0.16},{"c":16,"t":"l","x":7,"y":0.138},{"c":16,"t":"l","x":8,"y":0.118},{"c":16,"t":"l","x":10,"y":0.089},{"c":16,"t":"l","x":12,"y":0.07},{"c":16,"t":"l","x":15,"y":0.052},{"c":16,"t":"l","x":20,"y":0.036},{"c":16,"t":"l","x":25,"y":0.027},{"c":16,"t":"l","x":30,"y":0.021},{"c":16,"t":"l","x":40,"y":0.014},{"c":16,"t":"l","x":50,"y":0.0105},{"c":16,"t":"l","x":60,"y":0.0085},{"c":16,"t":"l","x":80,"y":0.006},{"c":16,"t":"l","x":100,"y":0.0045},
{"c":17,"t":"l","x":3.3,"y":0.52},{"c":17,"t":"l","x":3.8,"y":0.30},{"c":17,"t":"l","x":4,"y":0.262},{"c":17,"t":"l","x":4.5,"y":0.215},{"c":17,"t":"l","x":5,"y":0.183},{"c":17,"t":"l","x":6,"y":0.148},{"c":17,"t":"l","x":7,"y":0.124},{"c":17,"t":"l","x":8,"y":0.106},{"c":17,"t":"l","x":10,"y":0.083},{"c":17,"t":"l","x":12,"y":0.067},{"c":17,"t":"l","x":15,"y":0.052},{"c":17,"t":"l","x":20,"y":0.039},{"c":17,"t":"l","x":25,"y":0.031},{"c":17,"t":"l","x":30,"y":0.025},{"c":17,"t":"l","x":40,"y":0.018},{"c":17,"t":"l","x":50,"y":0.0143},{"c":17,"t":"l","x":60,"y":0.0118},{"c":17,"t":"l","x":80,"y":0.0092},{"c":17,"t":"l","x":100,"y":0.0075},
{"c":18,"t":"l","x":3.3,"y":0.5},{"c":18,"t":"l","x":3.8,"y":0.30},{"c":18,"t":"l","x":4,"y":0.255},{"c":18,"t":"l","x":4.5,"y":0.21},{"c":18,"t":"l","x":5,"y":0.175},{"c":18,"t":"l","x":6,"y":0.14},{"c":18,"t":"l","x":7,"y":0.118},{"c":18,"t":"l","x":8,"y":0.102},{"c":18,"t":"l","x":10,"y":0.082},{"c":18,"t":"l","x":12,"y":0.068},{"c":18,"t":"l","x":15,"y":0.054},{"c":18,"t":"l","x":20,"y":0.042},{"c":18,"t":"l","x":25,"y":0.034},{"c":18,"t":"l","x":30,"y":0.028},{"c":18,"t":"l","x":40,"y":0.021},{"c":18,"t":"l","x":50,"y":0.017},{"c":18,"t":"l","x":60,"y":0.0145},{"c":18,"t":"l","x":80,"y":0.012},{"c":18,"t":"l","x":100,"y":0.010},
{"c":19,"t":"l","x":3.3,"y":0.52},{"c":19,"t":"l","x":3.8,"y":0.30},{"c":19,"t":"l","x":4,"y":0.262},{"c":19,"t":"l","x":4.5,"y":0.215},{"c":19,"t":"l","x":5,"y":0.183},{"c":19,"t":"l","x":6,"y":0.148},{"c":19,"t":"l","x":7,"y":0.124},{"c":19,"t":"l","x":8,"y":0.106},{"c":19,"t":"l","x":10,"y":0.083},{"c":19,"t":"l","x":12,"y":0.067},{"c":19,"t":"l","x":15,"y":0.052},{"c":19,"t":"l","x":20,"y":0.039},{"c":19,"t":"l","x":25,"y":0.031},{"c":19,"t":"l","x":30,"y":0.025},{"c":19,"t":"l","x":40,"y":0.018},{"c":19,"t":"l","x":50,"y":0.0143},{"c":19,"t":"l","x":60,"y":0.0118},{"c":19,"t":"l","x":80,"y":0.0092},{"c":19,"t":"l","x":100,"y":0.0075},
{"c":20,"t":"l","x":3.3,"y":0.52},{"c":20,"t":"l","x":3.8,"y":0.30},{"c":20,"t":"l","x":4,"y":0.262},{"c":20,"t":"l","x":4.5,"y":0.215},{"c":20,"t":"l","x":5,"y":0.183},{"c":20,"t":"l","x":6,"y":0.148},{"c":20,"t":"l","x":7,"y":0.124},{"c":20,"t":"l","x":8,"y":0.106},{"c":20,"t":"l","x":10,"y":0.083},{"c":20,"t":"l","x":12,"y":0.067},{"c":20,"t":"l","x":15,"y":0.052},{"c":20,"t":"l","x":20,"y":0.039},{"c":20,"t":"l","x":25,"y":0.031},{"c":20,"t":"l","x":30,"y":0.025},{"c":20,"t":"l","x":40,"y":0.018},{"c":20,"t":"l","x":50,"y":0.0143},{"c":20,"t":"l","x":60,"y":0.0118},{"c":20,"t":"l","x":80,"y":0.0092},{"c":20,"t":"l","x":100,"y":0.0075}
]},
"bounds": "flush",
"spacing": 33,
"hconcat": [
  {
    "width": 10, "height": 646,
    "data": {"values": [{}]},
    "layer": [
      {"mark": {"type": "rule", "color": "#333", "strokeWidth": 7},
       "encoding": {
         "x": {"datum": 0.5, "type": "quantitative", "scale": {"domain": [0, 1]}, "axis": null},
         "y": {"datum": -0.041, "type": "quantitative", "scale": {"domain": [0, 1]}, "axis": null},
         "y2": {"datum": 1.0}}},
      {"mark": {"type": "point", "shape": "triangle-up", "filled": true, "size": 420, "color": "#333", "opacity": 1},
       "encoding": {"x": {"datum": 0.5, "type": "quantitative"}, "y": {"datum": 1.0085, "type": "quantitative"}}},
      {"mark": {"type": "rule", "color": "#333", "strokeWidth": 7},
       "encoding": {
         "x": {"datum": 0.15, "type": "quantitative"},
         "x2": {"datum": 131.5},
         "y": {"datum": -0.0356, "type": "quantitative"}}},
      {"mark": {"type": "point", "shape": "triangle-right", "filled": true, "size": 420, "color": "#333", "opacity": 1},
       "encoding": {"x": {"datum": 132.2, "type": "quantitative"}, "y": {"datum": -0.0356, "type": "quantitative"}}},
      {"mark": {"type": "text", "angle": 270, "align": "center", "baseline": "middle", "font": "Liberation Serif", "fontSize": 19, "fontWeight": "bold", "color": "black"},
       "encoding": {"x": {"datum": -1.7, "type": "quantitative"}, "y": {"datum": 0.529, "type": "quantitative"}, "text": {"value": "Probability Density Function p(Eᵈⁱˢ₍ₒ→d₎)"}}},
      {"mark": {"type": "text", "align": "center", "baseline": "alphabetic", "font": "Liberation Serif", "fontSize": 19, "fontWeight": "bold", "color": "black"},
       "encoding": {"x": {"datum": 66.6, "type": "quantitative"}, "y": {"datum": -0.079, "type": "quantitative"}, "text": {"value": "Travel distance Eᵈⁱˢ₍ₒ→d₎(km)"}}}
    ]
  },
  {
    "data": {"name": "d"},
    "facet": {"field": "c", "type": "ordinal", "sort": [1,2,3,4,5,6,7,8,9,10,11,12,13,14,15,16,17,18,19,20], "header": {"title": null, "labels": false, "labelExpr": "''", "labelFontSize": 1, "labelPadding": 0}},
    "columns": 4,
    "spacing": {"row": 29, "column": 42},
    "bounds": "flush",
    "resolve": {"axis": {"x": "independent", "y": "independent"}},
    "spec": {
      "width": 288, "height": 106,
      "view": {"stroke": "#444", "strokeWidth": 1},
      "layer": [
        {"transform": [{"filter": "datum.t == 'p'"}], "mark": {"type": "point", "filled": true, "size": 15, "opacity": 1, "clip": true},
         "encoding": {
           "x": {"field": "x", "type": "quantitative", "title": null, "scale": {"domain": [-4.9, 104.9], "nice": false, "zero": false}, "axis": {"values": [0, 20, 40, 60, 80, 100]}},
           "y": {"field": "y", "type": "quantitative", "title": null, "scale": {"domain": [0, 0.3], "nice": false}, "axis": {"values": [0, 0.05, 0.1, 0.15, 0.2, 0.25, 0.3], "format": ".2f"}},
           "color": {"field": "t", "type": "nominal", "scale": {"domain": ["p", "l"], "range": ["#1864b0", "#ff8f1f"]},
             "legend": {"orient": "none", "legendX": 442, "legendY": -50, "direction": "horizontal", "title": null,
               "labelExpr": "datum.value == 'p' ? 'Distance bins' : 'Fitted trend line'",
               "labelFont": "Liberation Serif", "labelFontSize": 26, "labelColor": "black", "labelOffset": 5, "labelLimit": 400,
               "symbolSize": 121, "symbolStrokeWidth": 3.5, "symbolOpacity": 1, "columnPadding": 41, "fillColor": "#aaa7a7", "strokeColor": "#111", "padding": 7}},
           "shape": {"field": "t", "type": "nominal", "scale": {"domain": ["p", "l"], "range": ["circle", "M-8.2,0L-6.2,0M-5.1,0L-3.1,0M-2,0L0,0"]},
             "legend": {"orient": "none", "legendX": 442, "legendY": -50, "direction": "horizontal", "title": null,
               "labelExpr": "datum.value == 'p' ? 'Distance bins' : 'Fitted trend line'",
               "labelFont": "Liberation Serif", "labelFontSize": 26, "labelColor": "black", "labelOffset": 5, "labelLimit": 400,
               "symbolSize": 121, "symbolStrokeWidth": 3.5, "symbolOpacity": 1, "columnPadding": 41, "fillColor": "#aaa7a7", "strokeColor": "#111", "padding": 7}}}},
        {"transform": [{"filter": "datum.t == 'l'"}], "mark": {"type": "line", "strokeDash": [5, 3], "strokeWidth": 1.6, "clip": true},
         "encoding": {
           "x": {"field": "x", "type": "quantitative", "title": null, "scale": {"domain": [-4.9, 104.9], "nice": false, "zero": false}, "axis": {"values": [0, 20, 40, 60, 80, 100]}},
           "y": {"field": "y", "type": "quantitative", "title": null, "scale": {"domain": [0, 0.3], "nice": false}, "axis": {"values": [0, 0.05, 0.1, 0.15, 0.2, 0.25, 0.3], "format": ".2f"}},
           "color": {"field": "t", "type": "nominal", "scale": {"domain": ["p", "l"], "range": ["#1864b0", "#ff8f1f"]}}}},
        {"transform": [{"filter": "datum.t == 'r'"}], "mark": {"type": "text", "align": "right", "baseline": "alphabetic", "fontSize": 23, "font": "Liberation Serif", "color": "black"},
         "encoding": {
           "x": {"datum": 101.5, "type": "quantitative", "title": null, "scale": {"domain": [-4.9, 104.9], "nice": false, "zero": false}, "axis": {"values": [0, 20, 40, 60, 80, 100]}},
           "y": {"datum": 0.226, "type": "quantitative", "title": null, "scale": {"domain": [0, 0.3], "nice": false}, "axis": {"values": [0, 0.05, 0.1, 0.15, 0.2, 0.25, 0.3], "format": ".2f"}},
           "text": {"field": "n"}}},
        {"transform": [{"filter": "datum.t == 'r'"}], "mark": {"type": "text", "align": "right", "baseline": "alphabetic", "fontSize": 22, "fontStyle": "italic", "font": "Liberation Serif", "color": "black"},
         "encoding": {
           "x": {"datum": 38.6, "type": "quantitative", "title": null, "scale": {"domain": [-4.9, 104.9], "nice": false, "zero": false}, "axis": {"values": [0, 20, 40, 60, 80, 100]}},
           "y": {"datum": 0.127, "type": "quantitative", "title": null, "scale": {"domain": [0, 0.3], "nice": false}, "axis": {"values": [0, 0.05, 0.1, 0.15, 0.2, 0.25, 0.3], "format": ".2f"}},
           "text": {"value": "R"}}},
        {"transform": [{"filter": "datum.t == 'r'"}], "mark": {"type": "text", "align": "left", "baseline": "alphabetic", "fontSize": 22, "font": "Liberation Serif", "color": "black"},
         "encoding": {
           "x": {"datum": 38.9, "type": "quantitative", "title": null, "scale": {"domain": [-4.9, 104.9], "nice": false, "zero": false}, "axis": {"values": [0, 20, 40, 60, 80, 100]}},
           "y": {"datum": 0.127, "type": "quantitative", "title": null, "scale": {"domain": [0, 0.3], "nice": false}, "axis": {"values": [0, 0.05, 0.1, 0.15, 0.2, 0.25, 0.3], "format": ".2f"}},
           "text": {"field": "r"}}}
      ]
    }
  }
]
}
